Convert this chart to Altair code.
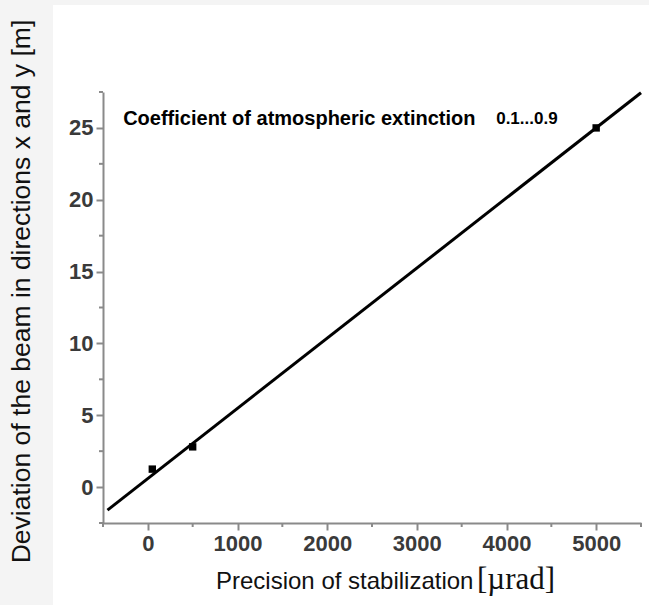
import altair as alt
import pandas as pd

# ---- data ----
line_x = [-450, 5500]
line_y = [-1.6, 27.45]
pts_x = [50, 500, 5000]
pts_y = [1.25, 2.8, 25.0]
x_major = [0, 1000, 2000, 3000, 4000, 5000]
x_minor = [-500, 500, 1500, 2500, 3500, 4500, 5500]
y_major = [0, 5, 10, 15, 20, 25]
y_minor = [-2.5, 2.5, 7.5, 12.5, 17.5, 22.5, 27.5]
ann_text = ["Coefficient of atmospheric extinction"]
ann_x = [-275]
ann_y = [25.6]
ann2_text = ["0.1...0.9"]
ann2_x = [3885]
ann2_y = [25.6]
xtitle_sans = ["Precision of stabilization"]
xtitle_serif = ["[µrad]"]

line_df = pd.DataFrame({"x": line_x, "y": line_y})
pts_df = pd.DataFrame({"x": pts_x, "y": pts_y})
ann_df = pd.DataFrame({"x": ann_x, "y": ann_y, "t": ann_text})
ann2_df = pd.DataFrame({"x": ann2_x, "y": ann2_y, "t": ann2_text})
xmin_df = pd.DataFrame({"x": x_minor})
ymin_df = pd.DataFrame({"y": y_minor})

xs = alt.Scale(domain=[-500, 5500], nice=False, zero=False)
ys = alt.Scale(domain=[-2.5, 27.5], nice=False, zero=False)

AX_COLOR = "#8a8a8a"

x_axis = alt.Axis(values=x_major, format="d", tickSize=7, tickWidth=2, tickColor=AX_COLOR,
                  domainColor=AX_COLOR, domainWidth=2, labelPadding=3, grid=False, zindex=1,
                  labelFont="Liberation Sans", labelFontSize=22, labelFontWeight="bold",
                  labelColor="#3a3a3a", title=None)
y_axis = alt.Axis(values=y_major, format="d", tickSize=7, tickWidth=2, tickColor=AX_COLOR,
                  domainColor=AX_COLOR, domainWidth=2, labelPadding=3, grid=False, zindex=1,
                  labelFont="Liberation Sans", labelFontSize=22, labelFontWeight="bold",
                  labelColor="#3a3a3a",
                  title="Deviation of the beam in directions x and y [m]", titleFont="Liberation Sans",
                  titleFontSize=26.5, titleFontWeight="normal", titleColor="#111",
                  titleAngle=-90, titleX=-82, titleY=199, titleBaseline="middle",
                  titleAnchor="middle")

bg = alt.Chart(pd.DataFrame({"a": [0]})).mark_rect(color="white").encode(
    x=alt.value(-50), x2=alt.value(546), y=alt.value(-87), y2=alt.value(513)
)

line = alt.Chart(line_df).mark_line(color="black", strokeWidth=3).encode(
    x=alt.X("x:Q", scale=xs, axis=x_axis),
    y=alt.Y("y:Q", scale=ys, axis=y_axis),
)

xminor = alt.Chart(xmin_df).mark_rule(color=AX_COLOR, strokeWidth=2).encode(
    x=alt.X("x:Q", scale=xs), y=alt.value(431), y2=alt.value(435)
)
yminor = alt.Chart(ymin_df).mark_rule(color=AX_COLOR, strokeWidth=2).encode(
    y=alt.Y("y:Q", scale=ys), x=alt.value(-4), x2=alt.value(0)
)

pts = alt.Chart(pts_df).mark_point(shape="square", filled=True, color="black", size=55, opacity=1).encode(
    x=alt.X("x:Q", scale=xs),
    y=alt.Y("y:Q", scale=ys),
)

ann = alt.Chart(ann_df).mark_text(align="left", baseline="middle", font="Liberation Sans",
                                  fontSize=20, fontWeight="bold", color="black").encode(
    x=alt.X("x:Q", scale=xs), y=alt.Y("y:Q", scale=ys), text="t:N"
)
ann2 = alt.Chart(ann2_df).mark_text(align="left", baseline="middle", font="Liberation Sans",
                                   fontSize=17, fontWeight="bold", color="black").encode(
    x=alt.X("x:Q", scale=xs), y=alt.Y("y:Q", scale=ys), text="t:N"
)

xt1 = alt.Chart(pd.DataFrame({"t": xtitle_sans})).mark_text(
    align="left", baseline="alphabetic", font="Liberation Sans", fontSize=24, color="#111"
).encode(text="t:N", x=alt.value(113), y=alt.value(497))
xt2 = alt.Chart(pd.DataFrame({"t": xtitle_serif})).mark_text(
    align="left", baseline="alphabetic", font="Liberation Serif", fontSize=31, color="#111"
).encode(text="t:N", x=alt.value(374), y=alt.value(497))

chart = alt.layer(bg, line, xminor, yminor, pts, ann, ann2, xt1, xt2).properties(
    width=538, height=431,
    padding={"left": 103, "top": 92, "right": 8, "bottom": 82},
    autosize=alt.AutoSizeParams(type="none"),
    background="#f4f4f4",
).configure_view(stroke=None, fill="white")

chart.save("out.html", embed_options={"renderer": "svg", "actions": False})
